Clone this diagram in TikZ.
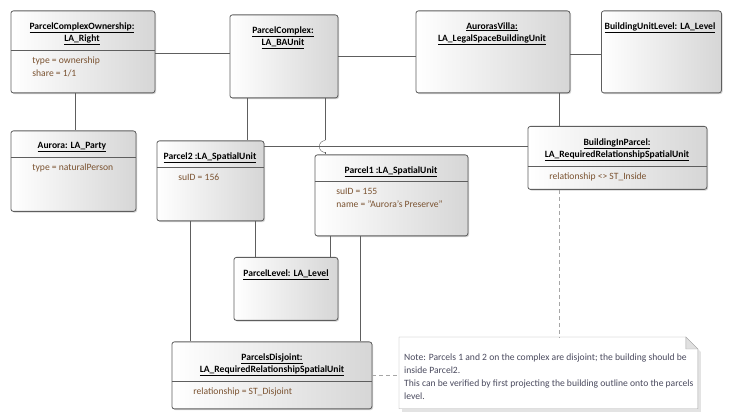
\documentclass[tikz,border=0pt]{standalone}
\usepackage{fontspec}
\setmainfont{Carlito}
\usetikzlibrary{positioning, shadows, backgrounds}
\definecolor{boxline}{HTML}{5E5E5E}
\definecolor{boxgray}{HTML}{D6D6D6}
\definecolor{attrtext}{HTML}{7A5230}
\definecolor{notetext}{HTML}{4A4A5E}
\definecolor{noteline}{HTML}{A6A6A6}

\begin{document}
\begin{tikzpicture}[
		x=1pt, y=-1pt,
		line width=0.8pt,
		font=\fontsize{9.6}{12.5}\selectfont,
		every node/.style={inner sep=0pt},
		object/.style={draw=boxline, rounded corners=2.5pt, anchor=north west,
			left color=white, right color=boxgray,
			drop shadow={shadow xshift=1.2pt, shadow yshift=-1.2pt, fill=black!35}},
		title/.style={anchor=north, align=center, font=\fontsize{9.6}{12.5}\selectfont\bfseries},
		attr/.style={anchor=base west, text=attrtext},
		divider/.style={draw=boxline},
		link/.style={draw=boxline},
		note link/.style={draw=noteline, dash pattern=on 4pt off 3pt}
		]

	\useasboundingbox (0,0) rectangle (731,419);

	% Objects
	\node[object, minimum width=144pt, minimum height=82pt] (ownership) at (10.5,10.5) {};
	\node[object, minimum width=108pt, minimum height=83pt] (complex) at (229.5,14.5) {};
	\node[object, minimum width=154pt, minimum height=82pt] (villa) at (415.5,10.5) {};
	\node[object, minimum width=120pt, minimum height=82pt] (bulevel) at (601,10.5) {};
	\node[object, minimum width=125pt, minimum height=80.5pt] (aurora) at (10.5,130.5) {};
	\node[object, minimum width=107pt, minimum height=80pt] (parcel2) at (156.5,140.5) {};
	\node[object, minimum width=153pt, minimum height=81pt] (parcel1) at (314.5,154.5) {};
	\node[object, minimum width=179pt, minimum height=63pt] (inparcel) at (527.5,126) {};
	\node[object, minimum width=104pt, minimum height=63pt] (plevel) at (233.5,257) {};
	\node[object, minimum width=200pt, minimum height=67pt] (disjoint) at (171.5,341.5) {};

	% Titles
	\node[title] (ownership title) at (82,22) {\underline{ParcelComplexOwnership:}\\\underline{LA\_Right}};
	\node[title] (complex title) at (283,26) {\underline{ParcelComplex:}\\\underline{LA\_BAUnit}};
	\node[title] (villa title) at (492,22) {\underline{AurorasVilla:}\\\underline{LA\_LegalSpaceBuildingUnit}};
	\node[title] (bulevel title) at (660,22) {\underline{BuildingUnitLevel: LA\_Level}};
	\node[title] (aurora title) at (72,142) {\underline{Aurora: LA\_Party}};
	\node[title] (parcel2 title) at (210,152) {\underline{Parcel2 :LA\_SpatialUnit}};
	\node[title] (parcel1 title) at (391,166) {\underline{Parcel1 :LA\_SpatialUnit}};
	\node[title] (inparcel title) at (617,138) {\underline{BuildingInParcel:}\\\underline{LA\_RequiredRelationshipSpatialUnit}};
	\node[title] (plevel title) at (286,269) {\underline{ParcelLevel: LA\_Level}};
	\node[title] (disjoint title) at (272,353) {\underline{ParcelsDisjoint:}\\\underline{LA\_RequiredRelationshipSpatialUnit}};

	% Dividers
	\draw[divider] ([yshift=-40pt]ownership.north west) -- ([yshift=-40pt]ownership.north east);
	\draw[divider] ([yshift=-27pt]aurora.north west) -- ([yshift=-27pt]aurora.north east);
	\draw[divider] ([yshift=-27pt]parcel2.north west) -- ([yshift=-27pt]parcel2.north east);
	\draw[divider] ([yshift=-26.5pt]parcel1.north west) -- ([yshift=-26.5pt]parcel1.north east);
	\draw[divider] ([yshift=-40pt]inparcel.north west) -- ([yshift=-40pt]inparcel.north east);
	\draw[divider] ([yshift=-40pt]disjoint.north west) -- ([yshift=-40pt]disjoint.north east);

	% Attributes
	\node[attr] (ownership type) at (32,64) {type = ownership};
	\node[attr] (ownership share) at (32,76.5) {share = 1/1};
	\node[attr] (aurora type) at (32,171) {type = naturalPerson};
	\node[attr] (parcel2 id) at (178,180.5) {suID = 156};
	\node[attr] (parcel1 id) at (336,195) {suID = 155};
	\node[attr] (parcel1 name) at (336,208) {name = "Aurora's Preserve"};
	\node[attr] (inparcel rel) at (549,180) {relationship <> ST\_Inside};
	\node[attr] (disjoint rel) at (193,395) {relationship = ST\_Disjoint};

	% Note
	\node[minimum width=298pt, minimum height=71pt, anchor=north west] (note) at (399,337) {};
	\begin{pgfonlayer}{background}
		\draw[noteline, fill=white, drop shadow={shadow xshift=3pt, shadow yshift=-3pt, fill=black!22}]
			(note.north west) -- ([xshift=-12pt]note.north east) -- ([yshift=-12pt]note.north east)
			-- (note.south east) -- (note.south west) -- cycle;
		\draw[noteline, fill=black!12] ([xshift=-12pt]note.north east) -- ([xshift=-12pt, yshift=-12pt]note.north east)
			-- ([yshift=-12pt]note.north east) -- cycle;
	\end{pgfonlayer}
	\node[anchor=north west, align=left, text=notetext, font=\fontsize{9.6}{12.8}\selectfont] (note text) at (404,354)
		{Note: Parcels 1 and 2 on the complex are disjoint; the building should be\\
		inside Parcel2.\\
		This can be verified by first projecting the building outline onto the parcels\\
		level.};

	% Connectors
	\coordinate (ow) at ([yshift=-1pt]ownership.east);
	\draw[link] (ow) -- (ow -| complex.west);
	\draw[link] (complex.east) -- (complex.east -| villa.west);
	\coordinate (vw) at ([yshift=-2.5pt]villa.east);
	\draw[link] (vw) -- (vw -| bulevel.west);
	\coordinate (os) at ([xshift=-8pt]ownership.south);
	\draw[link] (os) -- (os |- aurora.north);
	\coordinate (cs1) at ([xshift=18pt]complex.south west);
	\draw[link] (cs1) -- (cs1 |- parcel2.north);
	\coordinate (cs2) at ([xshift=-13pt]complex.south east);
	\coordinate (pe) at ([yshift=-6pt]parcel2.north east);
	\coordinate (hop) at (cs2 |- pe);
	\draw[link] (pe) -- (pe -| inparcel.west);
	% hop over the Parcel2 line
	\draw[link] (cs2) -- ([yshift=6pt]hop);
	\draw[link] ([yshift=6pt]hop) arc[start angle=90, end angle=270, radius=6pt];
	\draw[link] ([yshift=-6pt]hop) -- (hop |- parcel1.north);
	\coordinate (vs) at ([xshift=-11pt]villa.south east);
	\draw[link] (vs) -- (vs |- inparcel.north);
	\coordinate (ps1) at ([xshift=34pt]parcel2.south west);
	\draw[link] (ps1) -- (ps1 |- disjoint.north);
	\coordinate (ps2) at ([xshift=-9.5pt]parcel2.south east);
	\draw[link] (ps2) -- (ps2 |- plevel.north);
	\coordinate (qs1) at ([xshift=16pt]parcel1.south west);
	\draw[link] (qs1) -- (qs1 |- plevel.north);
	\coordinate (qs2) at ([xshift=45.5pt]parcel1.south west);
	\draw[link] (qs2) -- (qs2 |- disjoint.north);

	% Note links
	\draw[note link] (vs |- inparcel.south) -- (vs |- note.north);
	\draw[note link] (disjoint.east) -- (disjoint.east -| note.west);

\end{tikzpicture}
\end{document}
